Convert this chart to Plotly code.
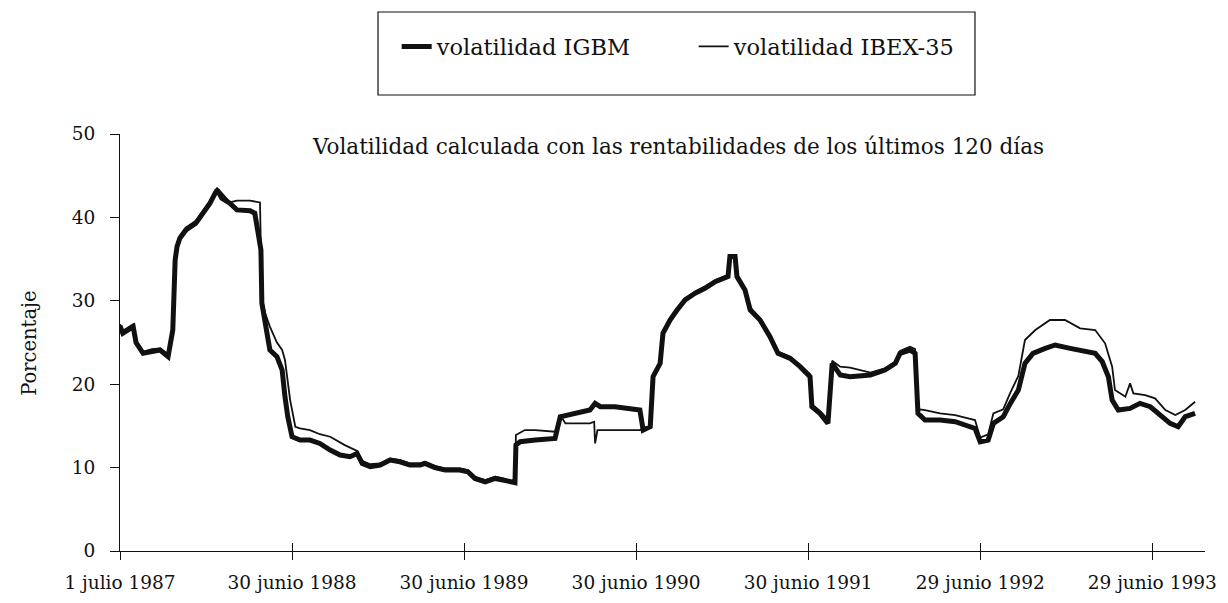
import pandas as pd
import plotly.graph_objects as go

# dias contados desde el 1 de julio de 1987
dias_igbm = [0, 6, 28, 34, 49, 68, 85, 102, 112, 117, 121, 127, 140, 161, 176, 191, 202, 206, 216, 233,
             248, 276, 286, 293, 299, 301, 308, 318, 333, 344, 350, 356, 365, 382, 403, 424, 446, 467, 488, 503,
             514, 531, 552, 573, 594, 615, 637, 647, 668, 690, 721, 738, 753, 775, 796, 813, 828, 838, 840, 849,
             881, 923, 934, 966, 997, 1008, 1019, 1050, 1082, 1103, 1110, 1125, 1131, 1146, 1152, 1167, 1182, 1199, 1220, 1241,
             1263, 1290, 1294, 1305, 1309, 1326, 1337, 1358, 1379, 1396, 1422, 1443, 1464, 1468, 1485, 1502, 1511, 1528, 1549, 1592,
             1623, 1645, 1655, 1676, 1687, 1693, 1708, 1740, 1772, 1793, 1814, 1825, 1842, 1853, 1874, 1889, 1906, 1920, 1937, 1963,
             1984, 2016, 2048, 2069, 2084, 2097, 2105, 2118, 2143, 2164, 2186, 2207, 2228, 2245, 2260, 2281]
igbm = [27.0, 26.1, 26.9, 25.0, 23.7, 23.9, 24.1, 23.3, 26.5, 34.9, 36.5, 37.5, 38.5, 39.3, 40.5, 41.7, 42.9, 43.3, 42.3, 41.7,
        40.9, 40.8, 40.5, 37.7, 36.1, 29.7, 27.7, 24.1, 23.3, 21.7, 18.5, 16.1, 13.7, 13.3, 13.3, 12.9, 12.1, 11.5, 11.3, 11.7,
        10.5, 10.1, 10.3, 10.9, 10.7, 10.3, 10.3, 10.5, 10.0, 9.7, 9.7, 9.5, 8.7, 8.3, 8.7, 8.5, 8.2, 8.2, 12.7, 13.1,
        13.3, 13.5, 16.1, 16.5, 16.9, 17.7, 17.3, 17.3, 17.1, 16.9, 14.5, 14.9, 20.9, 22.5, 26.1, 27.7, 28.9, 30.1, 30.9, 31.5,
        32.3, 32.9, 35.3, 35.3, 32.9, 31.3, 28.9, 27.7, 25.7, 23.7, 23.1, 22.1, 20.9, 17.3, 16.5, 15.3, 22.5, 21.1, 20.9, 21.1,
        21.7, 22.5, 23.7, 24.1, 23.7, 16.5, 15.7, 15.7, 15.5, 15.1, 14.7, 13.1, 13.3, 15.3, 16.1, 17.7, 19.3, 22.5, 23.7, 24.3,
        24.7, 24.3, 23.9, 23.7, 22.7, 20.9, 18.1, 16.9, 17.1, 17.7, 17.3, 16.3, 15.3, 14.9, 16.1, 16.5]

dias_ibex = [0, 6, 28, 34, 49, 68, 85, 102, 112, 117, 121, 127, 140, 161, 176, 191, 202, 206, 216, 233,
             248, 276, 297, 299, 301, 308, 318, 333, 344, 350, 361, 372, 382, 403, 424, 446, 477, 503, 514, 531,
             552, 573, 594, 615, 637, 647, 668, 690, 721, 738, 753, 775, 796, 813, 828, 838, 840, 859, 881, 923,
             934, 945, 997, 1006, 1008, 1013, 1050, 1103, 1110, 1125, 1131, 1146, 1152, 1167, 1182, 1199, 1220, 1241, 1263, 1290,
             1294, 1305, 1309, 1326, 1337, 1358, 1379, 1396, 1422, 1443, 1464, 1468, 1485, 1502, 1511, 1528, 1549, 1592, 1623, 1645,
             1655, 1676, 1687, 1693, 1708, 1740, 1772, 1793, 1814, 1825, 1842, 1853, 1874, 1889, 1906, 1920, 1942, 1973, 2005, 2037,
             2069, 2090, 2105, 2111, 2133, 2143, 2150, 2175, 2196, 2218, 2239, 2260, 2281]
ibex = [27.2, 26.4, 27.2, 25.2, 23.9, 24.2, 24.3, 23.6, 26.8, 35.2, 36.8, 37.8, 38.8, 39.6, 40.8, 42.0, 43.2, 43.5, 42.9, 41.8,
        42.0, 42.0, 41.8, 37.0, 30.5, 28.5, 26.9, 25.0, 24.1, 22.9, 18.1, 14.9, 14.7, 14.5, 14.0, 13.7, 12.7, 12.0, 10.8, 10.4,
        10.5, 11.1, 10.9, 10.5, 10.5, 10.7, 10.2, 9.9, 9.9, 9.7, 8.9, 8.5, 8.9, 8.7, 8.4, 8.4, 13.9, 14.5, 14.5, 14.3,
        16.3, 15.3, 15.3, 15.5, 12.9, 14.5, 14.5, 14.5, 14.7, 15.0, 21.0, 22.6, 26.3, 27.9, 29.1, 30.3, 31.1, 31.7, 32.5, 33.1,
        35.5, 35.5, 33.2, 31.5, 29.2, 27.9, 25.9, 23.9, 23.3, 22.3, 21.2, 17.6, 16.8, 15.8, 22.8, 22.1, 22.0, 21.4, 21.9, 22.7,
        24.0, 24.5, 24.2, 17.0, 16.9, 16.5, 16.3, 16.0, 15.7, 13.6, 14.0, 16.5, 17.0, 19.0, 21.0, 25.3, 26.5, 27.7, 27.7, 26.7,
        26.5, 24.9, 22.1, 19.3, 18.5, 20.1, 18.9, 18.7, 18.3, 16.9, 16.3, 16.9, 17.9]

tick_fechas = ['1987-07-01', '1988-06-30', '1989-06-30', '1990-06-30', '1991-06-30', '1992-06-29', '1993-06-29']
tick_textos = ['1 julio 1987', '30 junio 1988', '30 junio 1989', '30 junio 1990', '30 junio 1991',
               '29 junio 1992', '29 junio 1993']

inicio = pd.Timestamp('1987-07-01')
fechas_igbm = inicio + pd.to_timedelta(dias_igbm, unit='D')
fechas_ibex = inicio + pd.to_timedelta(dias_ibex, unit='D')

fuente = 'DejaVu Serif'
rango_x = ['1987-07-01', '1993-10-19']

fig = go.Figure()
fig.add_trace(go.Scatter(x=fechas_igbm, y=igbm, mode='lines', name='volatilidad IGBM',
                         line=dict(color='#111111', width=5)))
fig.add_trace(go.Scatter(x=fechas_ibex, y=ibex, mode='lines', name='volatilidad IBEX-35',
                         line=dict(color='#111111', width=1.8)))
# eje auxiliar para que las marcas del eje x crucen la linea
fig.add_trace(go.Scatter(x=[tick_fechas[0]], y=[None], xaxis='x2', showlegend=False, hoverinfo='skip'))

# la pagina tiene 8px de margen en el body
fig.update_layout(
    template='none',
    width=1212, height=587,
    margin=dict(l=112, r=15, t=126, b=44, autoexpand=False),
    paper_bgcolor='white', plot_bgcolor='white',
    font=dict(family=fuente, size=18.5, color='#111111'),
    showlegend=True,
    legend=dict(orientation='h', x=0.255, y=1.209, xanchor='left', yanchor='middle',
                font=dict(size=22.5), entrywidth=252, bgcolor='rgba(0,0,0,0)'),
    xaxis=dict(type='date', range=rango_x, tickvals=tick_fechas, ticktext=tick_textos, automargin=False,
               showgrid=False, zeroline=False, showline=True, linecolor='#111111', linewidth=1.2,
               ticks='outside', ticklen=8, tickcolor='#111111', tickwidth=1.2, ticklabelstandoff=7),
    xaxis2=dict(type='date', range=rango_x, overlaying='x', tickvals=tick_fechas, showticklabels=False,
                showgrid=False, zeroline=False, showline=False, side='bottom', automargin=False,
                ticks='inside', ticklen=8, tickcolor='#111111', tickwidth=1.2),
    yaxis=dict(range=[0, 50], tickvals=[0, 10, 20, 30, 40, 50], showgrid=False, zeroline=False, automargin=False,
               showline=True, linecolor='#111111', linewidth=1.2,
               ticks='outside', ticklen=9, tickcolor='#111111', tickwidth=1.2, ticklabelstandoff=11),
    shapes=[dict(type='rect', xref='paper', yref='paper', x0=0.2378, x1=0.788, y0=1.0935, y1=1.2926,
                 line=dict(color='#111111', width=1.2), fillcolor='rgba(0,0,0,0)')],
    annotations=[
        dict(text='Volatilidad calculada con las rentabilidades de los últimos 120 días',
             xref='paper', yref='paper', x=0.514, y=0.971, showarrow=False,
             xanchor='center', yanchor='middle', font=dict(size=21.5)),
        dict(text='Porcentaje', xref='paper', yref='paper', x=-0.083, y=0.499, textangle=-90,
             showarrow=False, xanchor='center', yanchor='middle', font=dict(size=19.5)),
    ],
)

fig.write_html('out.html')
